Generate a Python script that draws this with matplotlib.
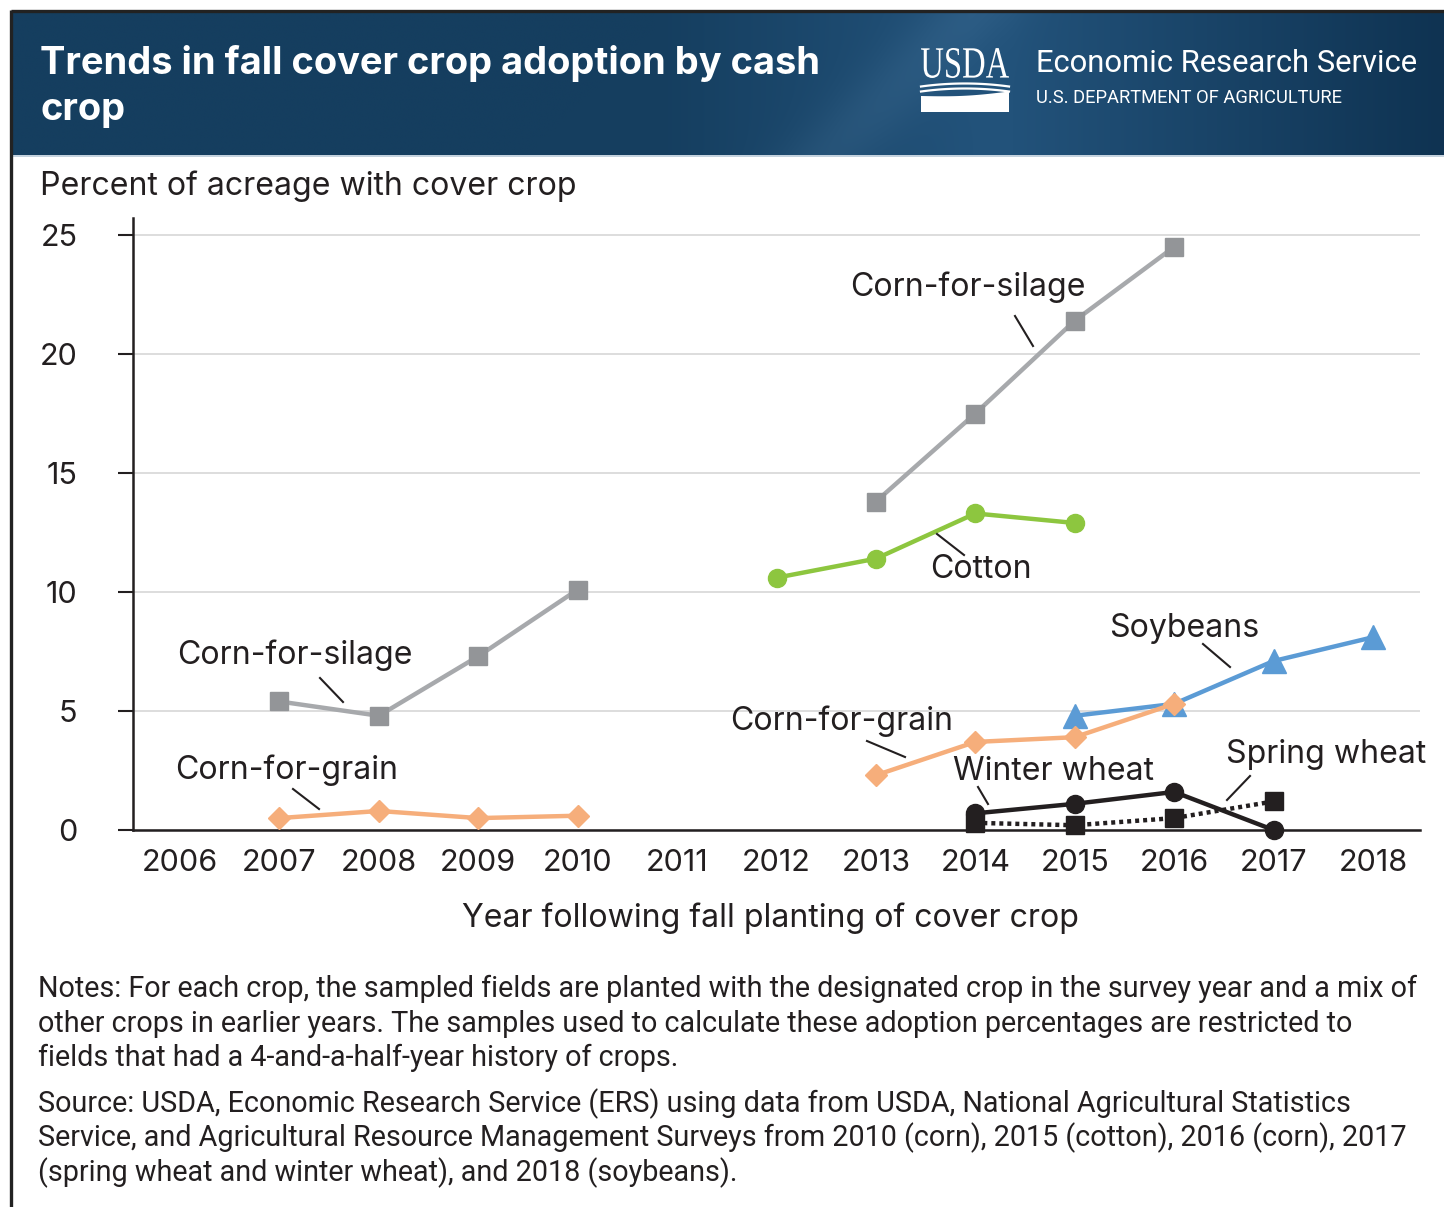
import numpy as np
import matplotlib
matplotlib.use("Agg")
import matplotlib.pyplot as plt
from matplotlib.textpath import TextPath
from matplotlib.patches import PathPatch, Polygon
from matplotlib.font_manager import FontProperties
from matplotlib.transforms import Affine2D

# ---------------- data ----------------
years_all = list(range(2006, 2019))
year_labels = [str(y) for y in years_all]
y_ticks = [0, 5, 10, 15, 20, 25]
y_tick_labels = ["0", "5", "10", "15", "20", "25"]

silage_early_years = [2007, 2008, 2009, 2010]
silage_early = [5.4, 4.8, 7.3, 10.1]
silage_late_years = [2013, 2014, 2015, 2016]
silage_late = [13.8, 17.5, 21.4, 24.5]
cotton_years = [2012, 2013, 2014, 2015]
cotton = [10.6, 11.4, 13.3, 12.9]
grain_early_years = [2007, 2008, 2009, 2010]
grain_early = [0.5, 0.8, 0.5, 0.6]
grain_late_years = [2013, 2014, 2015, 2016]
grain_late = [2.3, 3.7, 3.9, 5.3]
soy_years = [2015, 2016, 2017, 2018]
soy = [4.8, 5.3, 7.1, 8.1]
winter_years = [2014, 2015, 2016, 2017]
winter = [0.7, 1.1, 1.6, 0.0]
spring_years = [2014, 2015, 2016, 2017]
spring = [0.3, 0.2, 0.5, 1.2]

title_lines = ["Trends in fall cover crop adoption by cash", "crop"]
y_title = "Percent of acreage with cover crop"
x_title = "Year following fall planting of cover crop"
notes_lines = [
    "Notes: For each crop, the sampled fields are planted with the designated crop in the survey year and a mix of",
    "other crops in earlier years. The samples used to calculate these adoption percentages are restricted to",
    "fields that had a 4-and-a-half-year history of crops.",
]
source_lines = [
    "Source: USDA, Economic Research Service (ERS) using data from USDA, National Agricultural Statistics",
    "Service, and Agricultural Resource Management Surveys from 2010 (corn), 2015 (cotton), 2016 (corn), 2017",
    "(spring wheat and winter wheat), and 2018 (soybeans).",
]

# ---------------- style ----------------
FONT = "Inter"
plt.rcParams["font.family"] = [FONT, "DejaVu Sans"]
TXT = "#231f20"
W, H, DPI = 1444, 1207, 100

C_SIL_L = "#a7a9ac"
C_SIL_M = "#939598"
C_COT = "#8dc63f"
C_GRN = "#f6ae7b"
C_SOY = "#5b9bd5"
C_WHT = "#231f20"

fig = plt.figure(figsize=(W / DPI, H / DPI), dpi=DPI)
fig.patch.set_facecolor("white")

# background overlay axes in pixel coordinates
bg = fig.add_axes([0, 0, 1, 1])
bg.set_xlim(0, W)
bg.set_ylim(H, 0)
bg.axis("off")

# header gradient
hx0, hx1, hy0, hy1 = 12, W, 12, 155
nx, ny = 400, 60
xs = np.linspace(0, 1, nx)
ys = np.linspace(0, 1, ny)
X, Y = np.meshgrid(xs, ys)
c_left = np.array([0x15, 0x3e, 0x5f]) / 255
c_mid = np.array([0x22, 0x52, 0x7a]) / 255
c_right = np.array([0x0f, 0x33, 0x52]) / 255
t1 = np.clip((X - 0.45) / 0.22, 0, 1)
t2 = np.clip((X - 0.70) / 0.30, 0, 1)
base = (c_left[None, None, :] * (1 - t1[..., None]) + c_mid[None, None, :] * t1[..., None])
base = base * (1 - t2[..., None]) + c_right[None, None, :] * t2[..., None]
d = (X - 0.62) + (Y - 0.5) * 0.10
sw = np.exp(-(d / 0.035) ** 2) * 0.04
img = np.clip(base + sw[..., None], 0, 1)
bg.imshow(img, extent=(hx0, hx1, hy1, hy0), aspect="auto", zorder=1, interpolation="bilinear")
bg.plot([hx0, W], [155.5, 155.5], color="#b9c9d8", lw=1.2, zorder=2)
# border lines
bg.plot([10.5, W], [11, 11], color="#222222", lw=2.4, zorder=3, solid_capstyle="butt")
bg.plot([11, 11], [10, H], color="#222222", lw=2.4, zorder=3, solid_capstyle="butt")

# title
bg.text(40, 74, title_lines[0], color="white", fontsize=27.4, fontweight="bold",
        va="baseline", ha="left", zorder=5)
bg.text(40, 120, title_lines[1], color="white", fontsize=27.4, fontweight="bold",
        va="baseline", ha="left", zorder=5)

# USDA logo
fp = FontProperties(family="Liberation Serif")
tp = TextPath((0, 0), "USDA", prop=fp, size=100)
bb = tp.get_extents()
sx = (1009 - 921) / bb.width
sy = (78 - 48) / bb.height
trans = Affine2D().translate(-bb.x0, -bb.y0).scale(sx, -sy).translate(921, 78)
bg.add_patch(PathPatch(trans.transform_path(tp), facecolor="white", edgecolor="none", zorder=5))
xx = np.linspace(921, 1009, 50)
for y0 in [83.5, 88.5]:
    bg.plot(xx, y0 + 3.0 - 3.0 * (1 - ((xx - 965) / 44) ** 2), color="white", lw=1.6, zorder=5)
top_curve = 96 - 4.5 * (xx - 921) / 88 + 2.0 * np.sin((xx - 921) / 88 * np.pi)
poly = np.vstack([np.column_stack([xx, top_curve]), [[1009, 112], [921, 112]]])
bg.add_patch(Polygon(poly, closed=True, facecolor="white", edgecolor="none", zorder=5))

bg.text(1036, 64, "Economic Research Service", color="white", fontsize=22.3, family="Roboto",
        va="center", ha="left", zorder=5)
bg.text(1036, 98, "U.S. DEPARTMENT OF AGRICULTURE", color="white", fontsize=13.2, family="Roboto",
        va="center", ha="left", zorder=5)

# axis titles
bg.text(40, 186, y_title, color=TXT, fontsize=23.1, va="center", ha="left")
bg.text(770, 918, x_title, color=TXT, fontsize=23.1, va="center", ha="center")

# notes / source
for i, line in enumerate(notes_lines):
    bg.text(38, 997 + 34.5 * i, line, color=TXT, fontsize=20.7, va="baseline", ha="left",
            family="Roboto")
for i, line in enumerate(source_lines):
    bg.text(38, 1112 + 34.5 * i, line, color=TXT, fontsize=20.7, va="baseline", ha="left",
            family="Roboto")

# ---------------- main chart ----------------
x_left, x_right = 133, 1420
y_bottom, y_top = 830, 218
ax = fig.add_axes([x_left / W, 1 - y_bottom / H, (x_right - x_left) / W, (y_bottom - y_top) / H])
ax.set_facecolor("none")
px_per_year = (1373 - 180) / 12
ax.set_xlim(2006 - (180 - x_left) / px_per_year, 2006 + (x_right - 180) / px_per_year)
px_per_unit = (830 - 235) / 25
ax.set_ylim(0, (y_bottom - y_top) / px_per_unit)

ax.set_yticks(y_ticks)
ax.set_yticklabels(y_tick_labels)
ax.set_xticks(years_all)
ax.set_xticklabels(year_labels)
ax.tick_params(axis="y", direction="out", length=11, width=1.5, color=TXT, pad=29,
               labelsize=22, labelcolor=TXT)
ax.tick_params(axis="x", length=0, pad=14, labelsize=22, labelcolor=TXT)
for lab in ax.get_yticklabels():
    lab.set_horizontalalignment("right")
ax.yaxis.grid(True, color="#d3d3d3", lw=1.1)
ax.set_axisbelow(True)
for s in ["top", "right"]:
    ax.spines[s].set_visible(False)
for s in ["left", "bottom"]:
    ax.spines[s].set_linewidth(1.8)
    ax.spines[s].set_color(TXT)
ax.spines["bottom"].set_zorder(2.5)

LW = 3.2
kw = dict(clip_on=False, zorder=3)
ax.plot(silage_early_years, silage_early, color=C_SIL_L, lw=LW, marker="s", ms=13.5,
        mfc=C_SIL_M, mec=C_SIL_M, **kw)
ax.plot(silage_late_years, silage_late, color=C_SIL_L, lw=LW, marker="s", ms=13.5,
        mfc=C_SIL_M, mec=C_SIL_M, **kw)
ax.plot(cotton_years, cotton, color=C_COT, lw=LW, marker="o", ms=13, mfc=C_COT, mec=C_COT, **kw)
ax.plot(soy_years, soy, color=C_SOY, lw=LW, marker="^", ms=17, mfc=C_SOY, mec=C_SOY, **kw)
ax.plot(grain_early_years, grain_early, color=C_GRN, lw=LW, marker="D", ms=11.5, mfc=C_GRN, mec=C_GRN, **kw)
ax.plot(grain_late_years, grain_late, color=C_GRN, lw=LW, marker="D", ms=11.5, mfc=C_GRN, mec=C_GRN, **kw)
ax.plot(spring_years, spring, color=C_WHT, lw=LW, ls=(0, (0.9, 0.9)), marker="s", ms=13,
        mfc=C_WHT, mec=C_WHT, **kw)
ax.plot(winter_years, winter, color=C_WHT, lw=LW, marker="o", ms=13, mfc=C_WHT, mec=C_WHT, **kw)


def dx(px):
    return 2006 + (px - 180) / px_per_year


def dy(py):
    return (830 - py) / px_per_unit


labels = [
    ("Corn-for-silage", 295, 655, (320, 678), (343, 702)),
    ("Corn-for-grain", 287, 770, (293, 789), (319, 809)),
    ("Corn-for-silage", 968, 287, (1015, 316), (1033, 346)),
    ("Cotton", 981, 569, (937, 534), (964, 555)),
    ("Soybeans", 1184, 629, (1203, 644), (1230, 667)),
    ("Corn-for-grain", 842, 721, (867, 741), (905, 757)),
    ("Winter wheat", 1053, 771, (978, 787), (988, 804)),
    ("Spring wheat", 1326, 755, (1250, 776), (1227, 800)),
]
for txt, tx, ty, p0, p1 in labels:
    ax.text(dx(tx), dy(ty), txt, fontsize=23.1, color=TXT, ha="center", va="center", zorder=4)
    ax.plot([dx(p0[0]), dx(p1[0])], [dy(p0[1]), dy(p1[1])], color=TXT, lw=1.5, zorder=4,
            clip_on=False)

fig.savefig("out.png", dpi=DPI, facecolor="white")
